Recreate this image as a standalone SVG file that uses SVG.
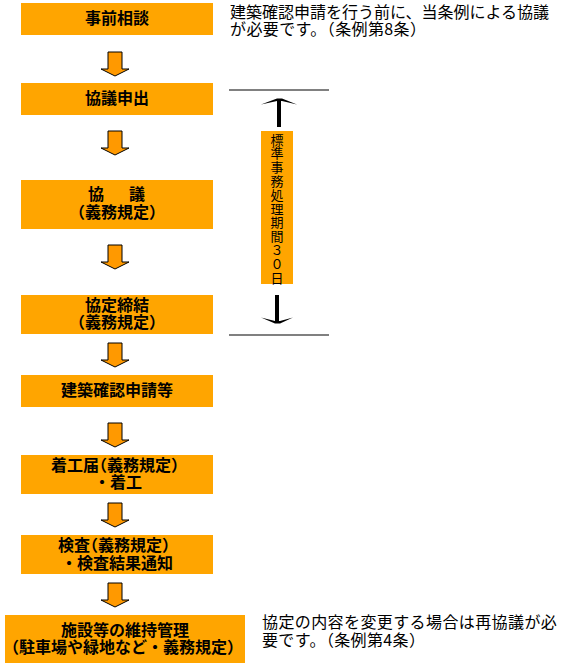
<svg xmlns="http://www.w3.org/2000/svg" xmlns:xlink="http://www.w3.org/1999/xlink" width="566" height="667" viewBox="0 0 566 667">
<style>
.box{fill:#FFA500}
.t{font-family:"Noto Sans CJK JP","Noto Sans CJK SC",sans-serif;font-size:16px;font-weight:bold;fill:#000;text-anchor:middle}
.a{font-family:"Noto Sans CJK JP","Noto Sans CJK SC",sans-serif;font-size:16px;fill:#000}
.w{letter-spacing:0.4px}
.v{font-family:"Noto Sans CJK JP","Noto Sans CJK SC",sans-serif;font-size:13px;fill:#000;text-anchor:middle}
.h{font-feature-settings:"halt"}
.arr{fill:#FF9900;stroke:#000;stroke-width:1}
.rule{stroke:#808080;stroke-width:2}
.shaft{fill:#000}
</style>
<defs>
<path id="dn" d="M108,0 H122 V17 H129 L115,24 L101,17 H108 Z"/>
</defs>
<rect width="566" height="667" fill="#fff"/>

<g id="node-jizen">
<rect class="box" x="21" y="3" width="192" height="32"/>
<text class="t" x="117" y="23.5">事前相談</text>
</g>
<g id="note-top">
<text class="a" x="230" y="17.5">建築確認申請を行う前に、当条例による協議</text>
<text class="a" x="230" y="34.5" textLength="188" lengthAdjust="spacing">が必要です。<tspan class="h">（</tspan>条例第8条<tspan class="h">）</tspan></text>
</g>
<g id="node-moushide">
<rect class="box" x="21" y="83" width="192" height="32"/>
<text class="t" x="117" y="103.5">協議申出</text>
</g>
<g id="node-kyougi">
<rect class="box" x="21" y="180" width="192" height="49"/>
<text class="t" x="88" y="199.5" style="text-anchor:start" textLength="57" lengthAdjust="spacing">協　　議</text>
<text class="t" x="117" y="217.5"><tspan class="h">（</tspan>義務規定<tspan class="h">）</tspan></text>
</g>
<g id="node-teiketsu">
<rect class="box" x="21" y="295" width="192" height="39"/>
<text class="t" x="117" y="310.5">協定締結</text>
<text class="t" x="117" y="327.5"><tspan class="h">（</tspan>義務規定<tspan class="h">）</tspan></text>
</g>
<g id="node-kakunin">
<rect class="box" x="21" y="375" width="192" height="32"/>
<text class="t" x="117" y="396">建築確認申請等</text>
</g>
<g id="node-chakko">
<rect class="box" x="21" y="455" width="192" height="39"/>
<text class="t" x="115" y="471">着工届<tspan class="h">（</tspan>義務規定<tspan class="h">）</tspan></text>
<text class="t" x="118" y="487.5">・着工</text>
</g>
<g id="node-kensa">
<rect class="box" x="21" y="535" width="192" height="39"/>
<text class="t" x="114" y="551">検査<tspan class="h">（</tspan>義務規定<tspan class="h">）</tspan></text>
<text class="t" x="117" y="569">・検査結果通知</text>
</g>
<g id="node-iji">
<rect class="box" x="5" y="615" width="240" height="48"/>
<text class="t" x="125" y="635.5">施設等の維持管理</text>
<text class="t" x="123" y="652.5"><tspan class="h">（</tspan>駐車場や緑地など・義務規定<tspan class="h">）</tspan></text>
</g>
<g id="note-bottom">
<text class="a w" x="262" y="627.5">協定の内容を変更する場合は再協議が必</text>
<text class="a" x="262" y="646" textLength="155" lengthAdjust="spacing">要です。<tspan class="h">（</tspan>条例第4条<tspan class="h">）</tspan></text>
</g>
<g id="period-label">
<rect class="box" x="261" y="131" width="32" height="153"/>
<text class="v" x="277" y="144.5"><tspan x="277">標</tspan><tspan x="277" dy="13.8">準</tspan><tspan x="277" dy="13.8">事</tspan><tspan x="277" dy="13.8">務</tspan><tspan x="277" dy="13.8">処</tspan><tspan x="277" dy="13.8">理</tspan><tspan x="277" dy="13.8">期</tspan><tspan x="277" dy="13.8">間</tspan><tspan x="277" dy="13.8">３</tspan><tspan x="277" dy="13.8">０</tspan><tspan x="277" dy="13.8">日</tspan></text>
</g>

<g id="connectors">
<use xlink:href="#dn" href="#dn" class="arr" y="52"/>
<use xlink:href="#dn" href="#dn" class="arr" y="131"/>
<use xlink:href="#dn" href="#dn" class="arr" y="245"/>
<use xlink:href="#dn" href="#dn" class="arr" y="343"/>
<use xlink:href="#dn" href="#dn" class="arr" y="423"/>
<use xlink:href="#dn" href="#dn" class="arr" y="503"/>
<use xlink:href="#dn" href="#dn" class="arr" y="583"/>
<line class="rule" x1="229" y1="90" x2="329" y2="90"/>
<line class="rule" x1="229" y1="335" x2="329" y2="335"/>
<rect class="shaft" x="277" y="100" width="4" height="27"/>
<path class="shaft" d="M261,104.5 L277,98.5 L282,98.5 L297,104.5 L282,101 L277,101 Z"/>
<rect class="shaft" x="275" y="295" width="4" height="27"/>
<path class="shaft" d="M261,317.5 L275,323.5 L280,323.5 L293,317.5 L280,321 L275,321 Z"/>
</g>
</svg>
